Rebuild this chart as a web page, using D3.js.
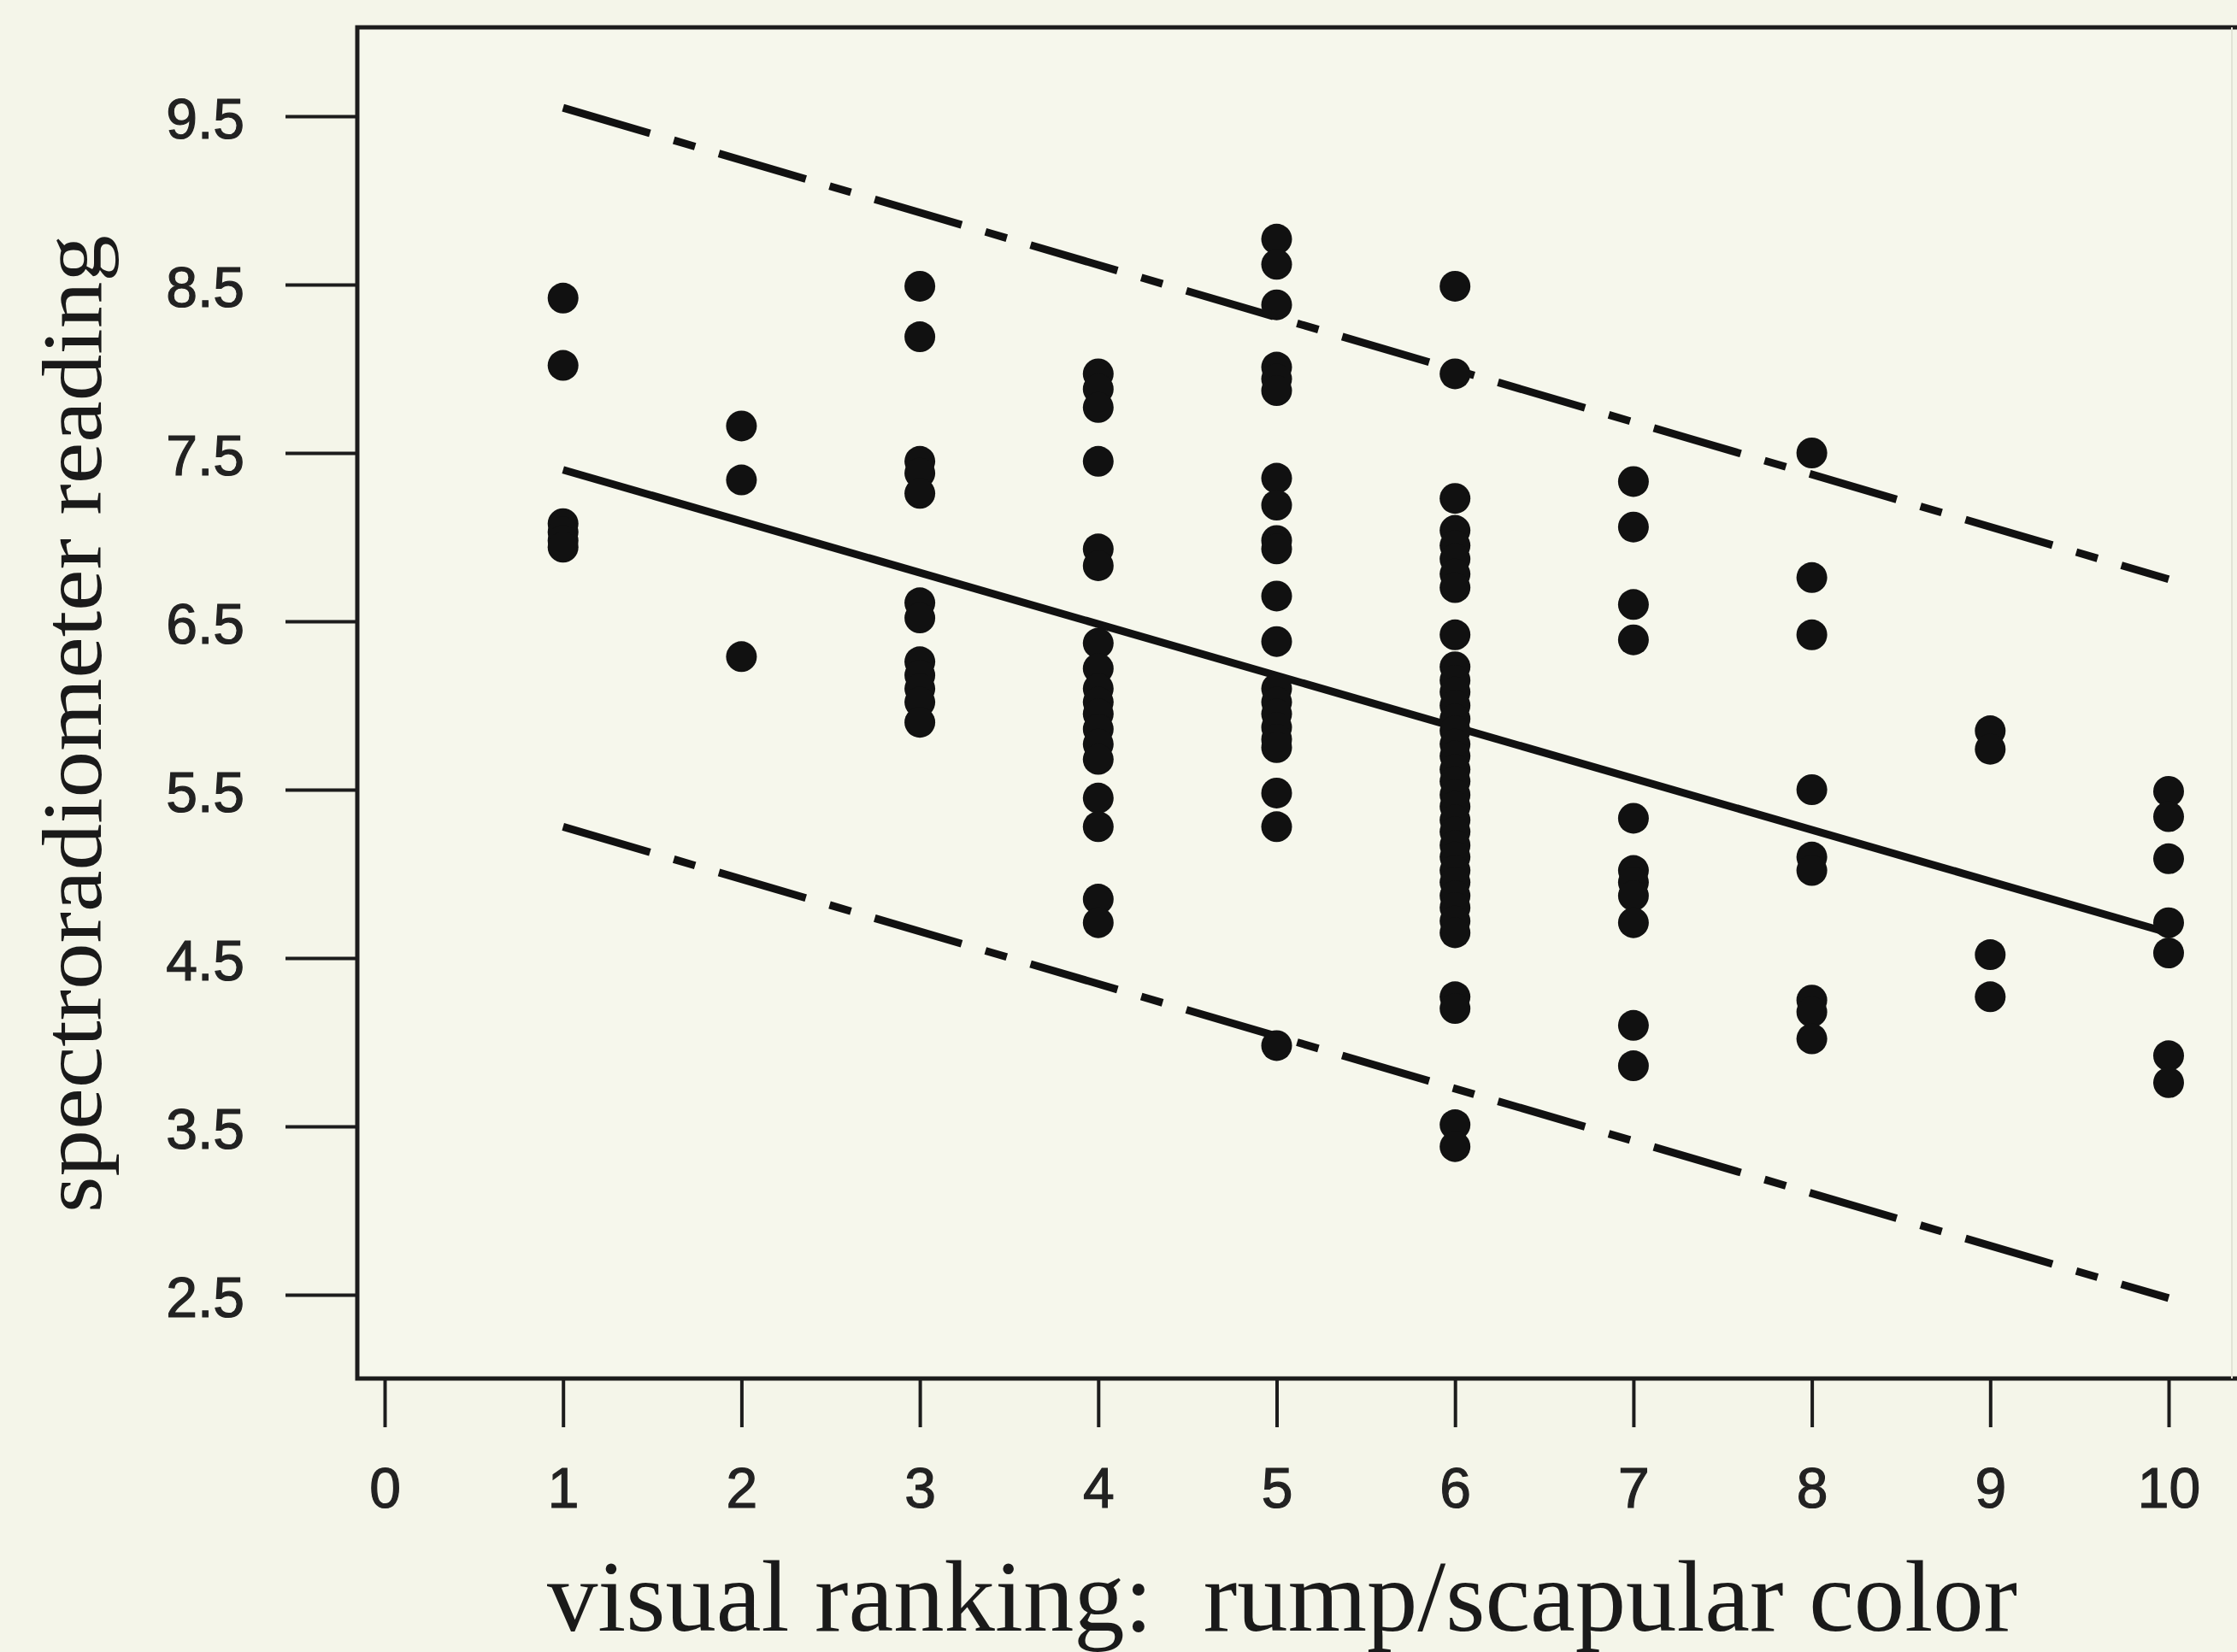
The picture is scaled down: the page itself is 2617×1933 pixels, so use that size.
<!DOCTYPE html>
<html>
<head>
<meta charset="utf-8">
<script src="https://cdn.jsdelivr.net/npm/d3@7"></script>
<style>
  body { margin: 0; background: #f4f5e9; }
  svg { display: block; }
</style>
</head>
<body>
<div id="chart"></div>
<script>
var chart_width = 2617;
var chart_height = 1933;

// data
var x_ticks = [0, 1, 2, 3, 4, 5, 6, 7, 8, 9, 10];
var y_ticks = [2.5, 3.5, 4.5, 5.5, 6.5, 7.5, 8.5, 9.5];
var ranks = [1, 2, 3, 4, 5, 6, 7, 8, 9, 10];
var readings = [
    [8.42, 8.02, 7.08, 7.03, 6.98, 6.94],
    [7.66, 7.34, 6.29],
    [8.49, 8.19, 7.45, 7.38, 7.26, 6.61, 6.52, 6.26, 6.18, 6.10, 6.02, 5.90],
    [7.97, 7.88, 7.77, 7.45, 6.93, 6.83, 6.37, 6.22, 6.10, 6.02, 5.95, 5.86, 5.77, 5.68, 5.45, 5.28, 4.85, 4.71],
    [8.77, 8.62, 8.38, 8.01, 7.94, 7.87, 7.35, 7.19, 6.98, 6.93, 6.65, 6.38, 6.10, 6.02, 5.95, 5.87, 5.80, 5.75, 5.48, 5.28, 3.98],
    [8.49, 7.97, 7.23, 7.04, 6.95, 6.87, 6.78, 6.70, 6.42, 6.23, 6.15, 6.08, 6.00, 5.92, 5.85, 5.77, 5.70, 5.62, 5.55, 5.47, 5.40, 5.32, 5.25, 5.17, 5.10, 5.02, 4.95, 4.87, 4.80, 4.72, 4.65, 4.27, 4.20, 3.51, 3.38],
    [7.33, 7.06, 6.60, 6.39, 5.33, 5.02, 4.95, 4.87, 4.71, 4.10, 3.86],
    [7.50, 6.76, 6.42, 5.50, 5.10, 5.02, 4.25, 4.18, 4.02],
    [5.85, 5.74, 4.52, 4.27],
    [5.49, 5.34, 5.09, 4.71, 4.53, 3.92, 3.76]
];
var line_x = [1, 10];
var fit_y = [7.40, 4.65];
var upper_y = [9.55, 6.75];
var lower_y = [5.28, 2.48];

var svg = d3.select('#chart')
    .append('svg')
    .attr('width', chart_width)
    .attr('height', chart_height);

svg.append('rect')
    .attr('width', chart_width)
    .attr('height', chart_height)
    .attr('fill', '#f4f5e9');

var frame_left = 418, frame_top = 32, frame_bottom = 1613, frame_right = 2611;

// Scales
var x_scale = d3.scaleLinear().domain([0, 10]).range([450, 2537]);
var y_scale = d3.scaleLinear().domain([2.5, 9.5]).range([1515, 136]);

// Frame
svg.append('rect')
    .attr('x', frame_left)
    .attr('y', frame_top)
    .attr('width', frame_right - frame_left)
    .attr('height', frame_bottom - frame_top)
    .attr('fill', '#f6f7ec');
svg.append('path')
    .attr('d', 'M' + chart_width + ',' + frame_top + 'H' + frame_left + 'V' + frame_bottom + 'H' + chart_width)
    .attr('fill', 'none')
    .attr('stroke', '#1c1c1c')
    .attr('stroke-width', 5);
svg.append('line')
    .attr('x1', frame_right).attr('x2', frame_right)
    .attr('y1', frame_top).attr('y2', frame_bottom)
    .attr('stroke', '#e2e3d6')
    .attr('stroke-width', 2);

// Axes
var y_axis = d3.axisLeft(y_scale)
    .tickValues(y_ticks)
    .tickSize(84)
    .tickPadding(48)
    .tickFormat(d3.format('.1f'));
var gy = svg.append('g')
    .attr('transform', 'translate(' + frame_left + ',0)')
    .call(y_axis);

var x_axis = d3.axisBottom(x_scale)
    .tickValues(x_ticks)
    .tickSize(57)
    .tickPadding(47)
    .tickFormat(d3.format('d'));
var gx = svg.append('g')
    .attr('transform', 'translate(0,' + frame_bottom + ')')
    .call(x_axis);

[gx, gy].forEach(function(g){
    g.select('.domain').remove();
    g.selectAll('.tick line').attr('stroke', '#1c1c1c').attr('stroke-width', 4);
    g.selectAll('.tick text')
        .attr('fill', '#222')
        .attr('stroke', '#222')
        .attr('stroke-width', 1.2)
        .style('font-family', '"Liberation Sans", Arial, sans-serif')
        .style('font-size', '66px');
});
gy.selectAll('.tick text').attr('dy', '0.38em');

// Axis titles
svg.append('text')
    .attr('x', 1500)
    .attr('y', 1908)
    .attr('text-anchor', 'middle')
    .attr('textLength', 1720)
    .attr('lengthAdjust', 'spacingAndGlyphs')
    .attr('fill', '#1a1a1a')
    .style('white-space', 'pre')
    .style('font-family', '"Liberation Serif", "Times New Roman", serif')
    .style('font-size', '118px')
    .text('visual ranking:  rump/scapular color');

svg.append('text')
    .attr('transform', 'translate(118,847) rotate(-90)')
    .attr('text-anchor', 'middle')
    .attr('textLength', 1144)
    .attr('lengthAdjust', 'spacingAndGlyphs')
    .attr('fill', '#1a1a1a')
    .style('font-family', '"Liberation Serif", "Times New Roman", serif')
    .style('font-size', '100px')
    .text('spectroradiometer reading');

// Lines
var line = d3.line()
    .x(function(d){ return x_scale(d[0]); })
    .y(function(d){ return y_scale(d[1]); });

function pairs(ys) {
    return line_x.map(function(x, i){ return [x, ys[i]]; });
}

svg.append('path')
    .datum(pairs(fit_y))
    .attr('fill', 'none')
    .attr('stroke', '#111')
    .attr('stroke-width', 9)
    .attr('d', line);

[upper_y, lower_y].forEach(function(ys){
    svg.append('path')
        .datum(pairs(ys))
        .attr('fill', 'none')
        .attr('stroke', '#111')
        .attr('stroke-width', 9)
        .attr('stroke-dasharray', '106,29,26,29')
        .attr('d', line);
});

// Points
var points = [];
ranks.forEach(function(r, i){
    readings[i].forEach(function(v){
        points.push({ rank: r, value: v });
    });
});

svg.append('g')
    .selectAll('circle')
    .data(points)
    .enter()
    .append('circle')
    .attr('cx', function(d){ return x_scale(d.rank); })
    .attr('cy', function(d){ return y_scale(d.value); })
    .attr('r', 18)
    .attr('fill', '#111');
</script>
</body>
</html>
